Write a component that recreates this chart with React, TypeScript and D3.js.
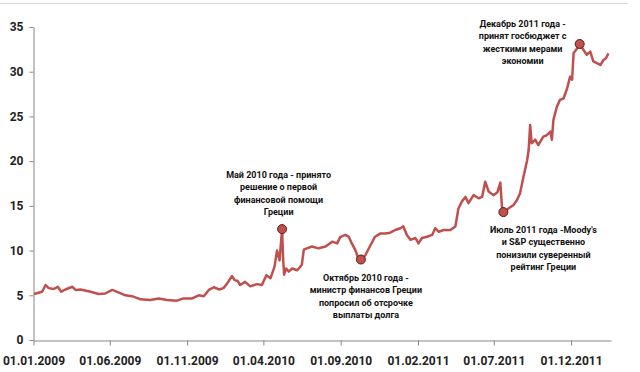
import React, { useEffect, useRef } from 'react';
import * as d3 from 'd3';

const dates = [
  '2009-01-02', '2009-01-18', '2009-01-25', '2009-01-31', '2009-02-10', '2009-02-18', '2009-02-25',
  '2009-03-05', '2009-03-19', '2009-03-25', '2009-04-04', '2009-04-24', '2009-05-10', '2009-05-23',
  '2009-06-06', '2009-06-19', '2009-07-02', '2009-07-15', '2009-08-01', '2009-08-20', '2009-09-06',
  '2009-09-22', '2009-10-12', '2009-10-25', '2009-11-11', '2009-11-24', '2009-12-04', '2009-12-14',
  '2009-12-24', '2010-01-03', '2010-01-12', '2010-01-19', '2010-01-29', '2010-02-03', '2010-02-09',
  '2010-02-14', '2010-02-24', '2010-03-06', '2010-03-19', '2010-03-29', '2010-04-07', '2010-04-15',
  '2010-04-23', '2010-04-28', '2010-05-03', '2010-05-08', '2010-05-10', '2010-05-12', '2010-05-16',
  '2010-05-21', '2010-05-28', '2010-06-07', '2010-06-16', '2010-06-20', '2010-06-26', '2010-07-06',
  '2010-07-19', '2010-08-02', '2010-08-15', '2010-08-25', '2010-08-31', '2010-09-10', '2010-09-17',
  '2010-09-23', '2010-09-30', '2010-10-06', '2010-10-11', '2010-10-20', '2010-10-30', '2010-11-08',
  '2010-11-18', '2010-11-28', '2010-12-08', '2010-12-18', '2010-12-28', '2011-01-03', '2011-01-10',
  '2011-01-17', '2011-01-27', '2011-02-02', '2011-02-09', '2011-02-19', '2011-03-01', '2011-03-07',
  '2011-03-14', '2011-03-24', '2011-04-06', '2011-04-16', '2011-04-22', '2011-04-29', '2011-05-06',
  '2011-05-12', '2011-05-22', '2011-06-01', '2011-06-08', '2011-06-14', '2011-06-21', '2011-06-30',
  '2011-07-08', '2011-07-14', '2011-07-17', '2011-07-20', '2011-07-30', '2011-08-09', '2011-08-16',
  '2011-08-22', '2011-08-29', '2011-09-05', '2011-09-08', '2011-09-11', '2011-09-14', '2011-09-21',
  '2011-09-27', '2011-10-07', '2011-10-14', '2011-10-21', '2011-10-24', '2011-10-27', '2011-11-03',
  '2011-11-09', '2011-11-16', '2011-11-23', '2011-11-29', '2011-12-03', '2011-12-06', '2011-12-11',
  '2011-12-18', '2011-12-26', '2012-01-01', '2012-01-08', '2012-01-14', '2012-01-21', '2012-01-28',
  '2012-02-03', '2012-02-08', '2012-02-13',
];

const values = [
  5.15, 5.4, 6.15, 5.8, 5.7, 5.95, 5.4,
  5.65, 5.95, 5.6, 5.65, 5.4, 5.15, 5.2,
  5.6, 5.3, 5.0, 4.9, 4.55, 4.47, 4.65,
  4.47, 4.4, 4.65, 4.65, 5.0, 4.9, 5.6,
  5.9, 5.65, 5.8, 6.3, 7.15, 6.7, 6.6,
  6.15, 6.5, 6.0, 6.25, 6.15, 7.25, 6.9,
  8.2, 10.0, 8.9, 12.4, 9.2, 7.3, 8.0,
  7.65, 8.0, 7.8, 8.4, 10.1, 10.25, 10.45,
  10.25, 10.45, 11.0, 10.8, 11.5, 11.75, 11.55,
  10.8, 10.05, 9.1, 9.0, 9.5, 10.6, 11.55,
  11.9, 11.9, 12.0, 12.3, 12.5, 12.7, 11.75,
  11.2, 11.4, 10.8, 11.4, 11.55, 11.75, 12.5,
  12.1, 12.3, 12.3, 12.7, 14.7, 15.5, 16.0,
  15.3, 16.2, 15.85, 16.0, 17.7, 16.6, 16.2,
  16.5, 17.6, 15.0, 14.3, 14.7, 15.1, 15.65,
  16.4, 18.3, 20.1, 21.25, 24.05, 22.0, 22.4,
  21.8, 22.75, 22.9, 23.3, 22.4, 24.6, 26.1,
  26.85, 27.0, 28.1, 29.45, 29.1, 32.1, 32.45,
  33.1, 32.4, 31.9, 32.25, 31.15, 30.95, 30.75,
  31.3, 31.5, 32.05,
];

const eventDates = ['2010-05-08', '2010-10-11', '2011-07-20', '2011-12-18'];
const eventValues = [12.4, 9.0, 14.3, 33.1];
const eventLabels = [
  ['Май 2010 года - принято', 'решение о первой', 'финансовой помощи', 'Греции'],
  ['Октябрь 2010 года -', 'министр финансов Греции', 'попросил об отсрочке', 'выплаты долга'],
  ["Июль 2011 года -Moody's", 'и S&P существенно', 'понизили суверенный', 'рейтинг Греции'],
  ['Декабрь 2011 года -', 'принят госбюджет с', 'жесткими мерами', 'экономии'],
];

const yTicks = [0, 5, 10, 15, 20, 25, 30, 35];
const xTickLabels = [
  '01.01.2009', '01.06.2009', '01.11.2009', '01.04.2010',
  '01.09.2010', '01.02.2011', '01.07.2011', '01.12.2011',
];

// where each note block sits relative to its marker (dx, dy of first line)
const labelOffsets = [
  [-3.5, -54],
  [5, 18.5],
  [40, 18],
  [-57, -20],
];

const App = () => {
  const ref = useRef<SVGSVGElement>(null);

  useEffect(() => {
    const svg = d3.select(ref.current);
    svg.selectAll('*').remove();

    const parse = d3.timeParse('%Y-%m-%d');
    const parseTick = d3.timeParse('%d.%m.%Y');
    const data = dates.map((d, i) => ({ date: parse(d) as Date, value: values[i] }));

    const x = d3
      .scaleTime()
      .domain([parse('2009-01-01') as Date, parse('2012-02-18') as Date])
      .range([33.5, 611]);
    const y = d3.scaleLinear().domain([0, 35]).range([340, 27]);

    const font = 'Roboto, "Noto Sans", sans-serif';

    // light frame line at the top
    svg.append('line')
      .attr('x1', 0).attr('x2', 628)
      .attr('y1', 3.5).attr('y2', 3.5)
      .attr('stroke', '#d9d9d9');

    const yAxis = svg.append('g')
      .attr('transform', 'translate(33.5,0)')
      .call(d3.axisLeft(y).tickValues(yTicks).tickSize(4).tickPadding(6).tickSizeOuter(0));

    const xAxis = svg.append('g')
      .attr('transform', 'translate(0,340.5)')
      .call(
        d3.axisBottom(x)
          .tickValues(xTickLabels.map((t) => parseTick(t) as Date))
          .tickFormat(d3.timeFormat('%d.%m.%Y') as any)
          .tickSize(5)
          .tickPadding(11)
          .tickSizeOuter(0)
      );

    [yAxis, xAxis].forEach((g) => {
      g.select('.domain').attr('stroke', '#868686');
      g.selectAll('.tick line').attr('stroke', '#868686');
      g.selectAll('.tick text')
        .attr('fill', '#222')
        .style('font-family', font)
        .style('font-weight', 'bold')
        .style('font-size', '12px');
    });

    const line = d3
      .line<{ date: Date; value: number }>()
      .x((d) => x(d.date))
      .y((d) => y(d.value));

    svg.append('path')
      .datum(data)
      .attr('d', line)
      .attr('fill', 'none')
      .attr('stroke', '#c0504d')
      .attr('stroke-width', 2.5)
      .attr('stroke-linejoin', 'round');

    const events = eventDates.map((d, i) => ({
      date: parse(d) as Date,
      value: eventValues[i],
      lines: eventLabels[i],
      off: labelOffsets[i],
    }));

    svg.selectAll('.marker')
      .data(events)
      .enter()
      .append('circle')
      .attr('class', 'marker')
      .attr('cx', (d) => x(d.date))
      .attr('cy', (d) => y(d.value))
      .attr('r', 4.5)
      .attr('fill', '#c0504d')
      .attr('stroke', '#5a1e1c')
      .attr('stroke-width', 1);

    const notes = svg.selectAll('.note')
      .data(events)
      .enter()
      .append('text')
      .attr('class', 'note')
      .attr('text-anchor', 'middle')
      .attr('fill', '#111')
      .style('font-family', font)
      .style('font-weight', 'bold')
      .style('font-size', '9px');

    notes.each(function (d) {
      const t = d3.select(this);
      d.lines.forEach((s, i) => {
        t.append('tspan')
          .attr('x', x(d.date) + d.off[0])
          .attr('y', y(d.value) + d.off[1] + i * 12.2)
          .attr('dy', '0.35em')
          .text(s);
      });
    });
  }, []);

  return (
    <svg
      ref={ref}
      width="640"
      height="372"
      style={{ position: 'absolute', left: 0, top: 0, background: '#fff' }}
    ></svg>
  );
};

export default App;
